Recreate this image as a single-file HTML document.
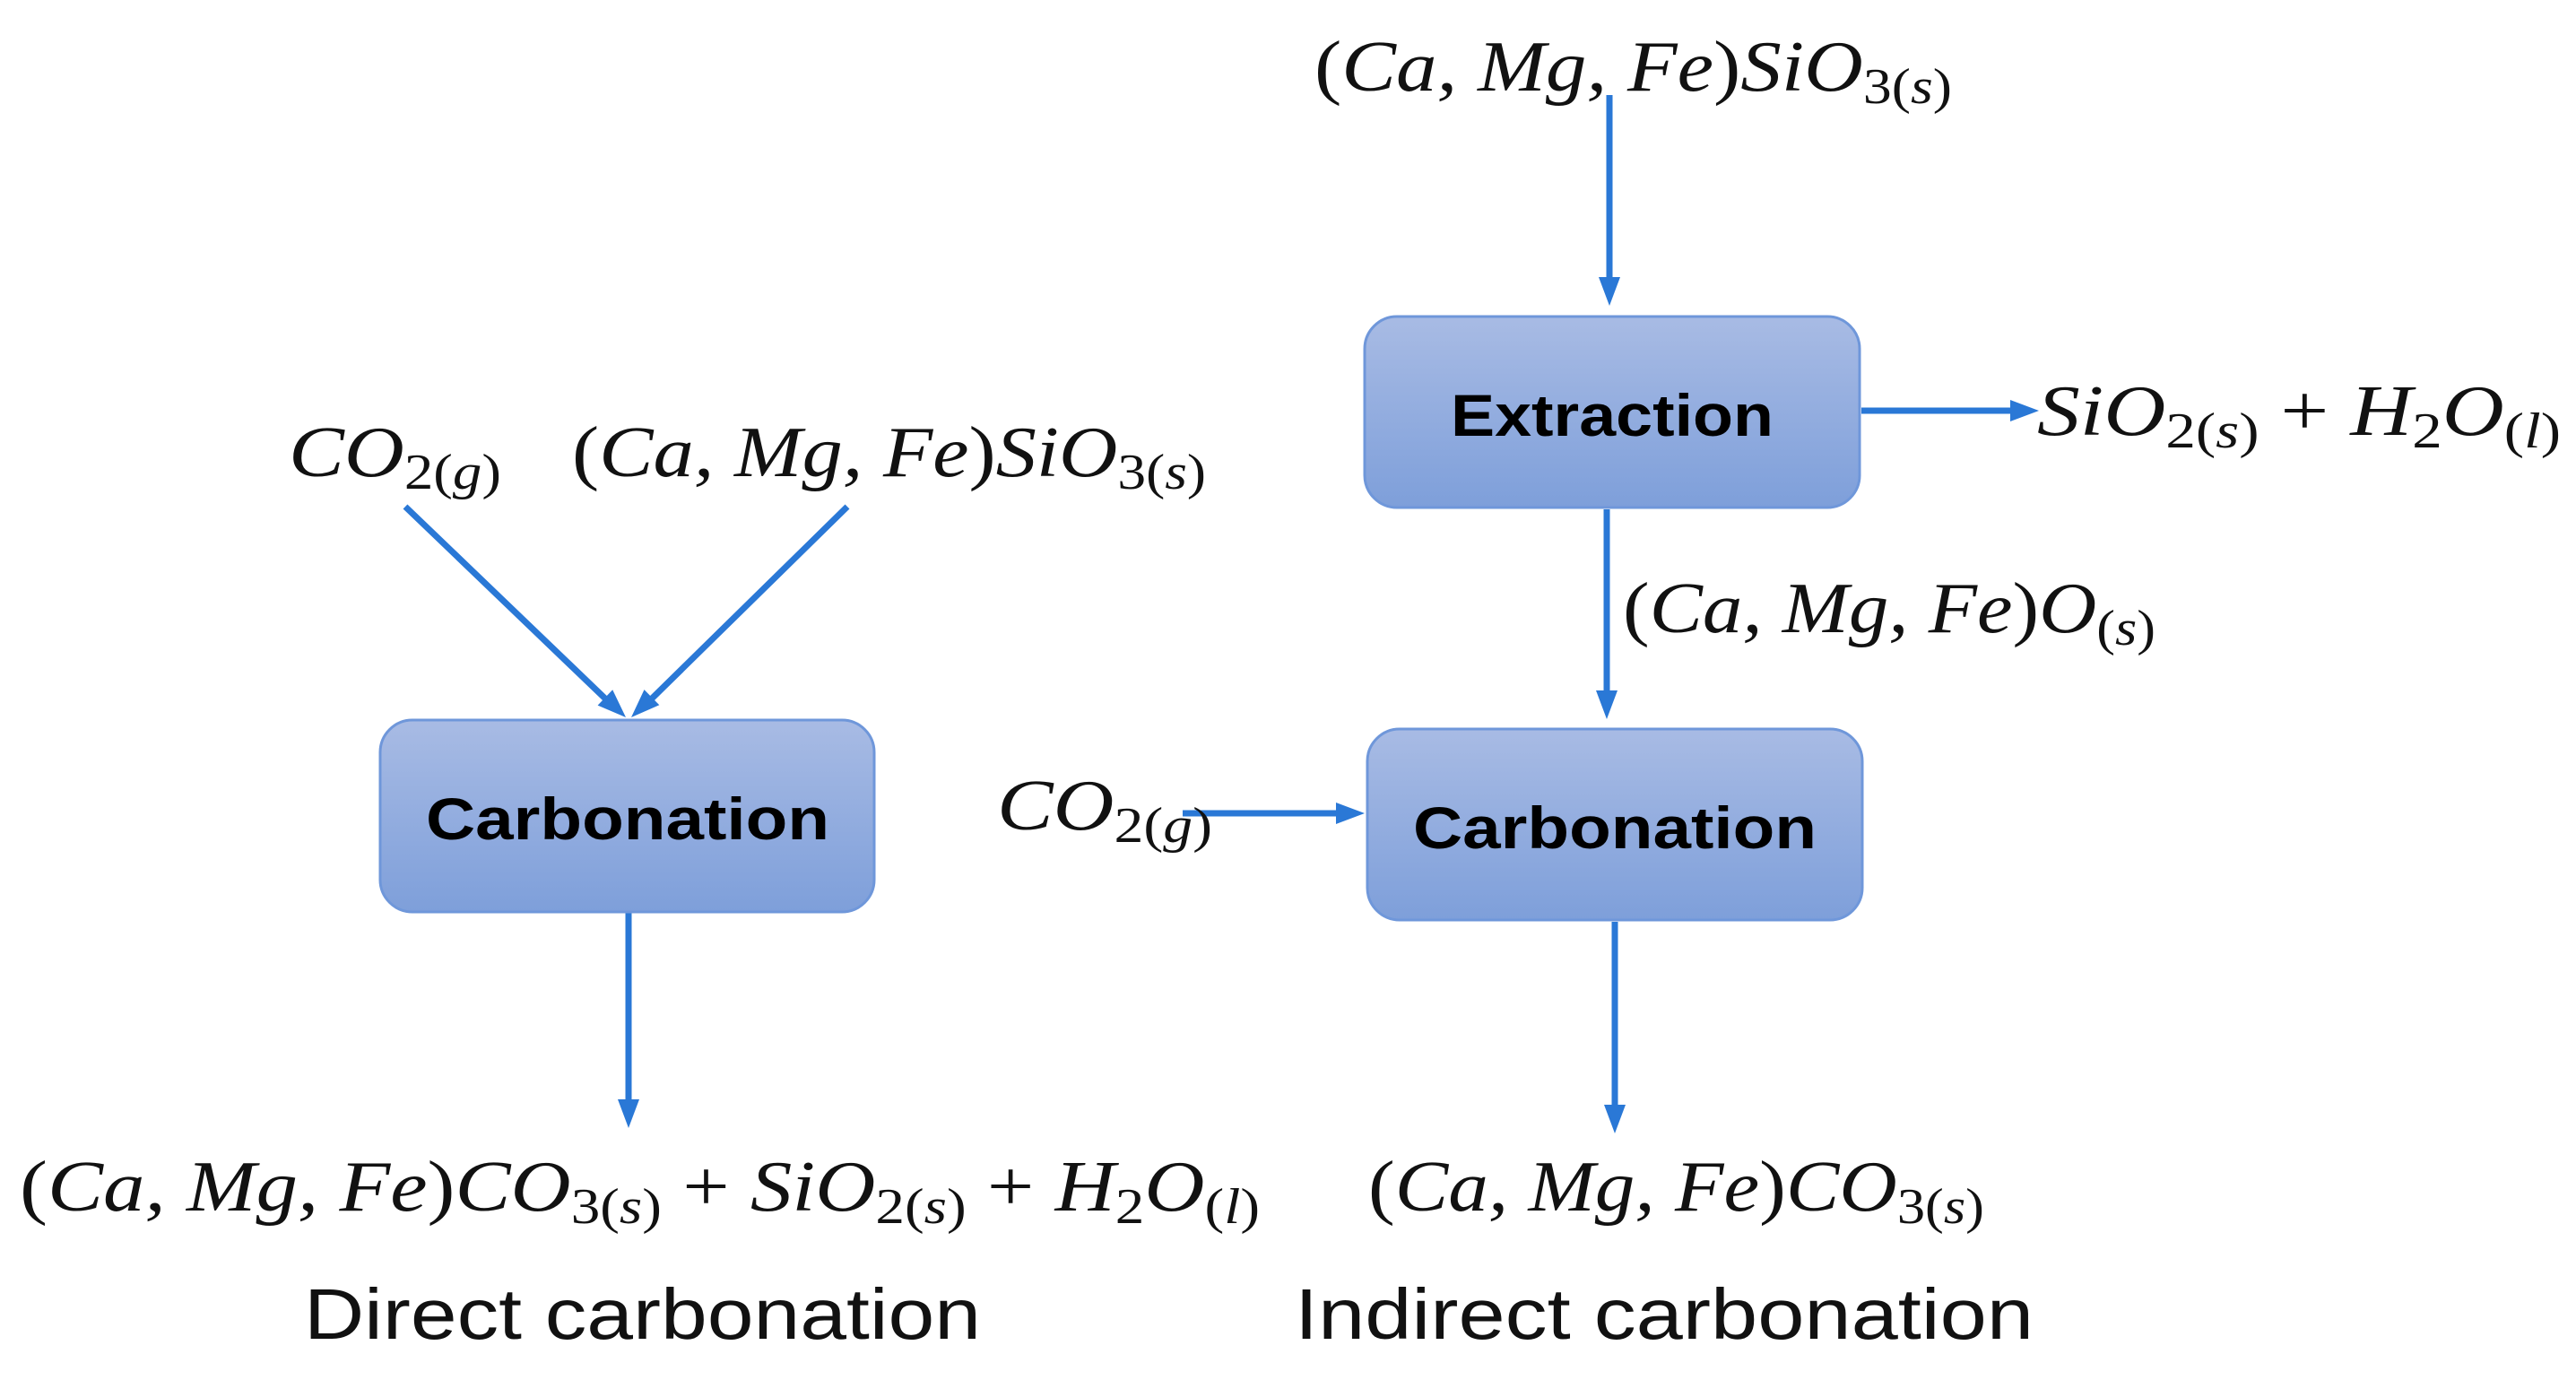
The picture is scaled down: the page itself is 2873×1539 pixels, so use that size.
<!DOCTYPE html>
<html><head><meta charset="utf-8"><style>
html,body{margin:0;padding:0;background:#fff;}
svg{display:block;}
.m{font-family:"Liberation Serif",serif;font-style:italic;font-size:80px;fill:#111;}
.s{font-size:56px;}
.n{font-style:normal;}
.b{font-family:"Liberation Sans",sans-serif;font-weight:bold;font-size:66px;fill:#000;}
.c{font-family:"Liberation Sans",sans-serif;font-size:80px;fill:#111;}
</style></head><body>
<svg width="2873" height="1539" viewBox="0 0 2873 1539" xmlns="http://www.w3.org/2000/svg">
<defs>
<linearGradient id="g" x1="0" y1="0" x2="0" y2="1">
<stop offset="0" stop-color="#a8bbe4"/><stop offset="1" stop-color="#7e9fda"/></linearGradient>
</defs>
<g stroke="#2a78d6" stroke-width="7" fill="none">
<line x1="452" y1="565" x2="676" y2="780"/>
<line x1="945" y1="565" x2="726" y2="780"/>
<line x1="701" y1="1018" x2="701" y2="1230"/>
<line x1="1795" y1="106" x2="1795" y2="310"/>
<line x1="2076" y1="458" x2="2245" y2="458"/>
<line x1="1792" y1="568" x2="1792" y2="772"/>
<line x1="1319" y1="907" x2="1492" y2="907"/>
<line x1="1801" y1="1028" x2="1801" y2="1236"/>
</g>
<g fill="#2a78d6">
<path d="M698,800 L666.6,786.6 L683.2,769.2 Z"/>
<path d="M704,800 L718.5,769.1 L735.3,786.3 Z"/>
<path d="M701,1258 L689,1226 L713,1226 Z"/>
<path d="M1795,341 L1783,309 L1807,309 Z"/>
<path d="M2274,458 L2242,446 L2242,470 Z"/>
<path d="M1792,802 L1780,770 L1804,770 Z"/>
<path d="M1522,907 L1490,895 L1490,919 Z"/>
<path d="M1801,1264 L1789,1232 L1813,1232 Z"/>
</g>
<rect x="424" y="803" width="551" height="214" rx="36" fill="url(#g)" stroke="#6f97da" stroke-width="3"/>
<rect x="1522" y="353" width="552" height="213" rx="36" fill="url(#g)" stroke="#6f97da" stroke-width="3"/>
<rect x="1525" y="813" width="552" height="213" rx="36" fill="url(#g)" stroke="#6f97da" stroke-width="3"/>
<text class="b" x="700" y="936" text-anchor="middle" textLength="450" lengthAdjust="spacingAndGlyphs">Carbonation</text>
<text class="b" x="1798" y="486" text-anchor="middle" textLength="360" lengthAdjust="spacingAndGlyphs">Extraction</text>
<text class="b" x="1801" y="946" text-anchor="middle" textLength="450" lengthAdjust="spacingAndGlyphs">Carbonation</text>

<text class="m" x="322" y="531" textLength="237" lengthAdjust="spacingAndGlyphs">CO<tspan class="s n" dy="14">2(</tspan><tspan class="s">g</tspan><tspan class="s n">)</tspan></text>
<text class="m" x="638" y="531" textLength="707" lengthAdjust="spacingAndGlyphs"><tspan class="n">(</tspan>Ca, Mg, Fe<tspan class="n">)</tspan>SiO<tspan class="s n" dy="14">3(</tspan><tspan class="s">s</tspan><tspan class="s n">)</tspan></text>
<text class="m" x="22" y="1350" textLength="1383" lengthAdjust="spacingAndGlyphs"><tspan class="n">(</tspan>Ca, Mg, Fe<tspan class="n">)</tspan>CO<tspan class="s n" dy="14">3(</tspan><tspan class="s">s</tspan><tspan class="s n">)</tspan><tspan class="n" dy="-14"> + </tspan>SiO<tspan class="s n" dy="14">2(</tspan><tspan class="s">s</tspan><tspan class="s n">)</tspan><tspan class="n" dy="-14"> + </tspan>H<tspan class="s n" dy="14">2</tspan><tspan dy="-14">O</tspan><tspan class="s n" dy="14">(</tspan><tspan class="s">l</tspan><tspan class="s n">)</tspan></text>
<text class="c" x="339" y="1493" textLength="755" lengthAdjust="spacingAndGlyphs">Direct carbonation</text>

<text class="m" x="1466" y="101" textLength="711" lengthAdjust="spacingAndGlyphs"><tspan class="n">(</tspan>Ca, Mg, Fe<tspan class="n">)</tspan>SiO<tspan class="s n" dy="14">3(</tspan><tspan class="s">s</tspan><tspan class="s n">)</tspan></text>
<text class="m" x="2272" y="485" textLength="584" lengthAdjust="spacingAndGlyphs">SiO<tspan class="s n" dy="14">2(</tspan><tspan class="s">s</tspan><tspan class="s n">)</tspan><tspan class="n" dy="-14"> + </tspan>H<tspan class="s n" dy="14">2</tspan><tspan dy="-14">O</tspan><tspan class="s n" dy="14">(</tspan><tspan class="s">l</tspan><tspan class="s n">)</tspan></text>
<text class="m" x="1810" y="705" textLength="594" lengthAdjust="spacingAndGlyphs"><tspan class="n">(</tspan>Ca, Mg, Fe<tspan class="n">)</tspan>O<tspan class="s n" dy="14">(</tspan><tspan class="s">s</tspan><tspan class="s n">)</tspan></text>
<text class="m" x="1112" y="925" textLength="240" lengthAdjust="spacingAndGlyphs">CO<tspan class="s n" dy="14">2(</tspan><tspan class="s">g</tspan><tspan class="s n">)</tspan></text>
<text class="m" x="1526" y="1350" textLength="687" lengthAdjust="spacingAndGlyphs"><tspan class="n">(</tspan>Ca, Mg, Fe<tspan class="n">)</tspan>CO<tspan class="s n" dy="14">3(</tspan><tspan class="s">s</tspan><tspan class="s n">)</tspan></text>
<text class="c" x="1444" y="1493" textLength="824" lengthAdjust="spacingAndGlyphs">Indirect carbonation</text>
</svg>
</body></html>
